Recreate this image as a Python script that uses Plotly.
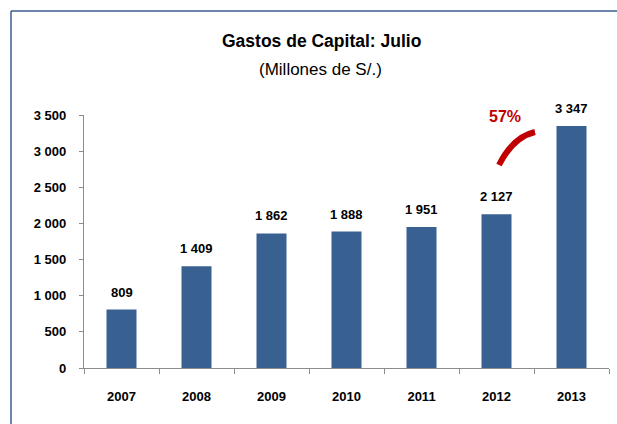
import plotly.graph_objects as go

years = ["2007", "2008", "2009", "2010", "2011", "2012", "2013"]
values = [809, 1409, 1862, 1888, 1951, 2127, 3347]
y_ticks = [0, 500, 1000, 1500, 2000, 2500, 3000, 3500]
title_text = "Gastos de Capital: Julio"
subtitle_text = "(Millones de S/.)"
growth_text = "57%"

FONT = "Liberation Sans Narrow, Arial Narrow, Liberation Sans, Arial, sans-serif"
BAR = "#386192"

fig = go.Figure()
fig.add_trace(go.Bar(
    x=years, y=values, marker=dict(color=BAR, line=dict(width=0)),
    width=0.4, hoverinfo="skip",
))

for i, v in enumerate(values):
    fig.add_annotation(
        x=i, y=v, xref="x", yref="y", text=f"{v:,}".replace(",", " "),
        showarrow=False, yanchor="bottom", yshift=8,
        font=dict(family=FONT, size=13, color="#000000", weight="bold"),
    )

W, H = 617, 424
L, R, T, B = 84, 8, 115, 56
pw, ph = W - L - R, H - T - B

def px(x):
    return (x - L) / pw

def py(y):
    return (H - B - y) / ph

fig.add_annotation(x=px(321), y=py(41), xref="paper", yref="paper", text=title_text,
                   showarrow=False, xanchor="center", yanchor="middle",
                   font=dict(family=FONT, size=17.5, color="#000000", weight="bold"))
fig.add_annotation(x=px(320), y=py(70), xref="paper", yref="paper", text=subtitle_text,
                   showarrow=False, xanchor="center", yanchor="middle",
                   font=dict(family=FONT, size=17, color="#000000"))
fig.add_annotation(x=px(505), y=py(117), xref="paper", yref="paper", text=growth_text,
                   showarrow=False, xanchor="center", yanchor="middle",
                   font=dict(family=FONT, size=16, color="#C00000", weight="bold"))

# red arc
x0, y0 = px(499), py(165)
cx, cy = px(513), py(137)
x1, y1 = px(535), py(132)
fig.add_shape(type="path", xref="paper", yref="paper",
              path=f"M {x0},{y0} Q {cx},{cy} {x1},{y1}",
              line=dict(color="#C00000", width=6))

# frame (top and left edges)
fig.add_shape(type="line", xref="paper", yref="paper", x0=px(11), y0=py(11), x1=px(620), y1=py(11),
              line=dict(color="#3A5D92", width=1.5), layer="above")
fig.add_shape(type="line", xref="paper", yref="paper", x0=px(11), y0=py(11), x1=px(11), y1=py(430),
              line=dict(color="#3A5D92", width=1.5), layer="above")

fig.update_layout(
    width=W, height=H,
    margin=dict(l=L, r=R, t=T, b=B),
    paper_bgcolor="white", plot_bgcolor="white",
    showlegend=False,
    separators=", ",
    xaxis=dict(
        type="category", range=[-0.5, len(years) - 0.5],
        showline=True, linecolor="#8C8C8C", linewidth=1.2,
        ticks="outside", ticklen=5, tickcolor="#8C8C8C", tickson="boundaries",
        showgrid=False, ticklabelstandoff=16,
        tickfont=dict(family=FONT, size=13, color="#000000", weight="bold"),
    ),
    yaxis=dict(
        range=[0, 3500], tickvals=y_ticks, tickformat=",d",
        showline=True, linecolor="#8C8C8C", linewidth=1.2,
        ticks="outside", ticklen=4, tickcolor="#8C8C8C",
        showgrid=False, zeroline=False, ticklabelstandoff=10,
        tickfont=dict(family=FONT, size=13, color="#000000", weight="bold"),
    ),
)

fig.write_html(
    "out.html",
    config={"displayModeBar": False, "staticPlot": True},
    post_script="document.body.style.margin='0';document.body.style.overflow='hidden';",
)
